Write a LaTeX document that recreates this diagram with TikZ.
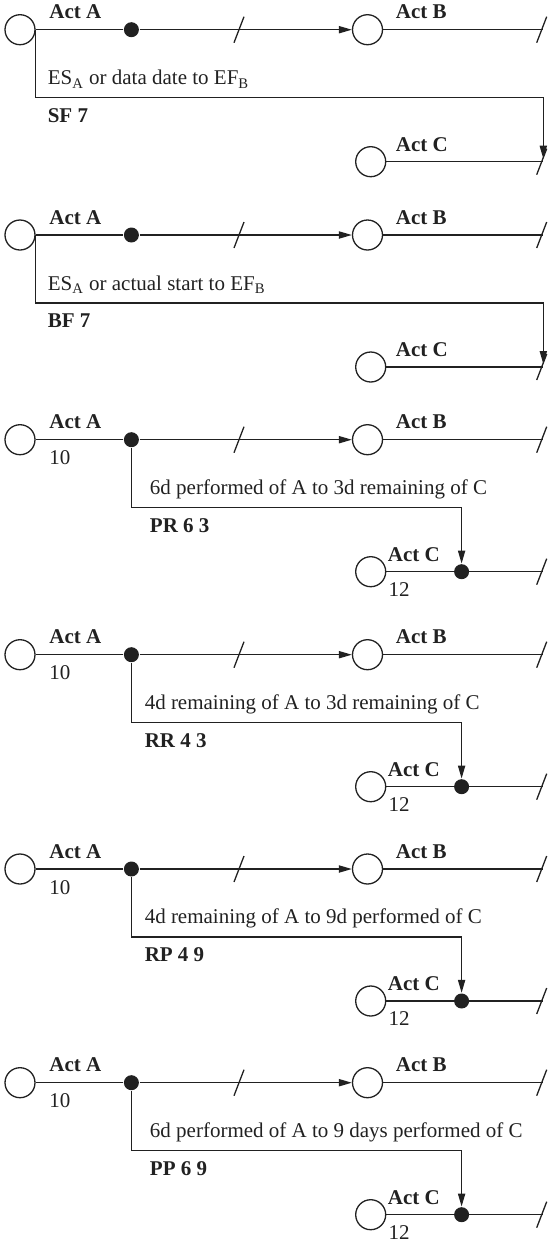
\documentclass[tikz,border=0pt]{standalone}
\usepackage{fontspec}
\setmainfont{Liberation Serif}
\usetikzlibrary{positioning, arrows.meta, calc}

\begin{document}
\begin{tikzpicture}[
  x=0.5pt, y=-0.5pt,
  line width=0.65pt, color=black!87,
  >={Triangle[length=6.5pt, width=3.6pt]},
  every node/.style={font=\fontsize{10.5}{12.5}\selectfont, inner sep=0pt},
  ev/.style   = {circle, draw, fill=white, minimum size=15pt},
  blob/.style = {circle, fill, minimum size=7.5pt},
  act/.style  = {font=\fontsize{10.5}{12.5}\selectfont\bfseries, anchor=west},
  lag/.style  = {anchor=west},
  brk/.pic    = {\draw (-5,13) -- (5,-13);},
]
  \useasboundingbox (0,0) rectangle (547,1243);

  % the three activities of every panel
  \foreach \i/\y in {1/29.7, 2/235, 3/439.7, 4/654.7, 5/869, 6/1082.7} {
    \node[ev]   (a\i) at (20,\y) {};
    \node[blob] (d\i) at (131.4,\y) {};
    \node[ev]   (b\i) at (367.5,\y) {};
    \node[ev]   (c\i) at (370.7,\y+132) {};
    \coordinate (be\i) at (543.3,\y);
    \coordinate (ce\i) at (543.3,\y+132);
    \node[act] (la\i) at (48.8,\y-17.7) {Act A};
    \node[act] (lb\i) at (395.3,\y-17.7) {Act B};
    \draw (a\i) -- (d\i);
    \draw[->] (d\i) -- (b\i);
    \draw (b\i) -- (be\i);
    \draw (c\i) -- (ce\i);
    \pic at (239,\y) {brk};
    \pic at (541.7,\y) {brk};
    \pic at (541.7,\y+132) {brk};
  }

  % start-to-finish links
  \foreach \i/\what/\tag in {1/data date/SF 7, 2/actual start/BF 7} {
    \draw[->, shorten >=1.5pt] (a\i.east) -- ++(0,68) coordinate (j\i) -| (ce\i);
    \node[lag] (t\i) at ($(j\i)+(11.5,-18.5)$) {ES\textsubscript{A} or \what{} to EF\textsubscript{B}};
    \node[act] (k\i) at ($(j\i)+(11.5,17.5)$) {\tag};
    \node[act] (lc\i) at ($(c\i)+(24.6,-17.3)$) {Act C};
  }

  % progress links between the two dots
  \foreach \i/\what/\tag/\dx in {
      3/6d performed of A to 3d remaining of C/PR 6 3/17.9,
      4/4d remaining of A to 3d remaining of C/RR 4 3/12.7,
      5/4d remaining of A to 9d performed of C/RP 4 9/12.7,
      6/6d performed of A to 9 days performed of C/PP 6 9/17.9} {
    \node[blob] (cd\i) at ($(c\i)+(90.9,0)$) {};
    \draw[->] (d\i) -- ++(0,68) coordinate (j\i) -| (cd\i);
    \node[lag] (t\i) at ($(j\i)+(\dx,-18.5)$) {\what};
    \node[act] (k\i) at ($(j\i)+(\dx,17.5)$) {\tag};
    \node[act] (lc\i) at ($(c\i)+(16.6,-17.3)$) {Act C};
    \node[lag] (na\i) at ($(a\i)+(28.8,18.3)$) {10};
    \node[lag] (nc\i) at ($(c\i)+(17.3,17.5)$) {12};
  }
\end{tikzpicture}
\end{document}
